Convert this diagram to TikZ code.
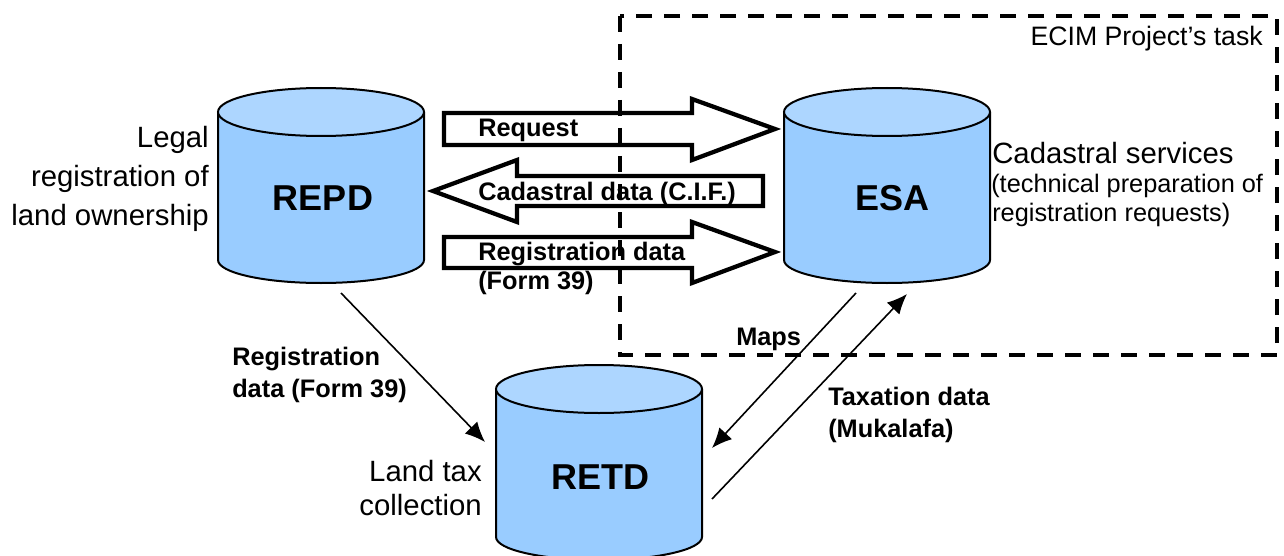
\documentclass[tikz,border=0pt]{standalone}
\usepackage{fontspec}
\setmainfont{Liberation Sans}
\usetikzlibrary{arrows.meta}
\definecolor{cylbody}{HTML}{99CCFF}
\definecolor{cyltop}{HTML}{ADD6FF}
\newcommand{\dbcyl}[4]{% name, left x, top-side y, bottom-side y
  \fill[cylbody] (#2,#3) -- (#2,#4) arc[start angle=180,end angle=0,x radius=103,y radius=23] -- (#2+206,#3) -- cycle;
  \draw[cylline] (#2,#3) -- (#2,#4) arc[start angle=180,end angle=0,x radius=103,y radius=23] -- (#2+206,#3);
  \draw[cylline,fill=cyltop] (#2+103,#3) ellipse[x radius=103,y radius=24];
  \coordinate (#1) at (#2+103,#3);
}
\tikzset{
  x=0.75pt,y=-0.75pt,
  cylline/.style={draw=black,line width=1.5pt},
  bigarrow/.style={draw=black,line width=3.2pt,miter limit=10},
  thin conn/.style={draw=black,line width=1.2pt,-{Latex[length=15pt,width=13pt]}},
  dbname/.style={font=\fontsize{27}{30}\selectfont\bfseries,inner sep=0pt},
  flow/.style={font=\fontsize{19}{24}\selectfont\bfseries,inner sep=0pt,align=left,anchor=base west},
  big label/.style={font=\fontsize{22}{29}\selectfont,inner sep=0pt},
  side text/.style={inner sep=0pt,anchor=base west},
  project/.style={draw=black,line width=3.2pt,dash pattern=on 12pt off 9pt},
}
\begin{document}
\begin{tikzpicture}
\useasboundingbox (0,0) rectangle (1284,556);
\begin{scope}
\clip (0,0) rectangle (1284,556);
\dbcyl{repd}{218}{112}{260}
\dbcyl{esa}{784}{112}{260}
\dbcyl{retd}{496}{389}{537}
\end{scope}
\draw[project] (620,16) -- (620,355) -- (1277,355) -- (1277,16) -- cycle;
\draw[bigarrow] (444,113) -- (692,113) -- (692,99) -- (775,129) -- (692,160) -- (692,145) -- (444,145) -- cycle;
\draw[bigarrow] (763,176) -- (517,176) -- (517,160) -- (433,191) -- (517,222) -- (517,206) -- (763,206) -- cycle;
\draw[bigarrow] (444,237) -- (692,237) -- (692,222) -- (775,252) -- (692,283) -- (692,268) -- (444,268) -- cycle;
\node[dbname] (repdname) at (323,198) {REPD};
\node[dbname] (esaname) at (892,198) {ESA};
\node[dbname] (retdname) at (600,477) {RETD};
\node[flow] (request) at (478,137) {Request};
\node[flow] (cadastral) at (478,200) {Cadastral data (C.I.F.)};
\node[flow,font=\fontsize{19}{22}\selectfont\bfseries,anchor=north west] (registration) at (478,242) {Registration data\\(Form 39)};
\node[flow,anchor=north west] (reglow) at (232,347) {Registration\\data (Form 39)};
\node[flow] (maps) at (736,345) {Maps};
\node[flow,anchor=north west] (taxation) at (828,387) {Taxation data\\(Mukalafa)};
\node[big label,align=right,anchor=east] (legal) at (209,179) {Legal\\registration of\\land ownership};
\node[big label,font=\fontsize{22}{25}\selectfont,align=right,anchor=east] (landtax) at (482,488) {Land tax\\collection};
\node[side text,font=\fontsize{22}{24}\selectfont] (cadserv) at (992,163) {Cadastral services};
\node[side text,font=\fontsize{19}{24}\selectfont] (cadtech) at (991,192) {(technical preparation of};
\node[side text,font=\fontsize{19}{24}\selectfont] (cadreq) at (992,221) {registration requests)};
\node[inner sep=0pt,anchor=base east,font=\fontsize{20}{24}\selectfont] (ecim) at (1263,46) {ECIM Project’s task};
\coordinate (a1) at (341,293); \coordinate (a2) at (485,442);
\coordinate (b1) at (856,293); \coordinate (b2) at (712,448);
\coordinate (c1) at (712,499); \coordinate (c2) at (907,294);
\draw[thin conn] (a1) -- (a2);
\draw[thin conn] (b1) -- (b2);
\draw[thin conn] (c1) -- (c2);
\end{tikzpicture}
\end{document}
